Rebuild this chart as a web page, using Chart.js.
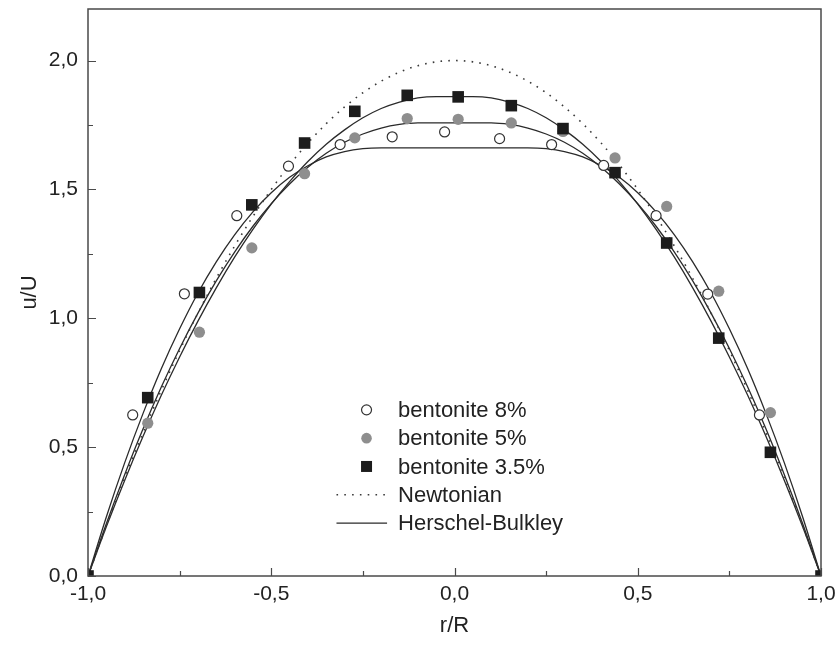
<!DOCTYPE html>
<html>
<head>
<meta charset="utf-8">
<script src="https://cdn.jsdelivr.net/npm/chart.js@4/dist/chart.umd.min.js"></script>
<style>
html,body{margin:0;padding:0;background:#fff;}
#wrap{width:838px;height:646px;position:relative;}
canvas{display:block;}
</style>
</head>
<body>
<div id="wrap"><canvas id="c" width="838" height="646"></canvas></div>
<script>
// ---- data ----
const legendLabels = ['bentonite 8%', 'bentonite 5%', 'bentonite 3.5%', 'Newtonian', 'Herschel-Bulkley'];
const xTickValues = [-1.0, -0.75, -0.5, -0.25, 0.0, 0.25, 0.5, 0.75, 1.0];
const yTickValues = [0.0, 0.25, 0.5, 0.75, 1.0, 1.25, 1.5, 1.75, 2.0];

// measured points
const r8  = [-0.878, -0.737, -0.594, -0.453, -0.312, -0.170, -0.027, 0.123, 0.265, 0.407, 0.550, 0.691, 0.832];
const u8  = [ 0.625,  1.095,  1.398,  1.590,  1.674,  1.704,  1.723, 1.697, 1.674, 1.593, 1.398, 1.094, 0.625];
const r5  = [-0.837, -0.696, -0.553, -0.409, -0.272, -0.129, 0.010, 0.155, 0.296, 0.438, 0.579, 0.721, 0.862];
const u5  = [ 0.593,  0.946,  1.273,  1.561,  1.700,  1.775, 1.772, 1.758, 1.725, 1.622, 1.434, 1.105, 0.634];
const r35 = [-1.000, -0.837, -0.696, -0.553, -0.409, -0.272, -0.129, 0.010, 0.155, 0.296, 0.438, 0.579, 0.721, 0.862, 1.000];
const u35 = [ 0.000,  0.692,  1.100,  1.440,  1.680,  1.803,  1.865, 1.859, 1.825, 1.736, 1.565, 1.292, 0.923, 0.480, 0.000];

// curves
const rGrid = [-1.00,-0.95,-0.90,-0.85,-0.80,-0.75,-0.70,-0.65,-0.60,-0.55,-0.50,-0.45,-0.40,-0.35,-0.30,-0.25,-0.20,-0.15,-0.10,-0.05,
                0.00, 0.05, 0.10, 0.15, 0.20, 0.25, 0.30, 0.35, 0.40, 0.45, 0.50, 0.55, 0.60, 0.65, 0.70, 0.75, 0.80, 0.85, 0.90, 0.95, 1.00];
const newtonian = [0,0.195,0.380,0.555,0.720,0.875,1.020,1.155,1.280,1.395,1.500,1.595,1.680,1.755,1.820,1.875,1.920,1.955,1.980,1.995,
                   2.000,1.995,1.980,1.955,1.920,1.875,1.820,1.755,1.680,1.595,1.500,1.395,1.280,1.155,1.020,0.875,0.720,0.555,0.380,0.195,0];
const hb35 = [0,0.191,0.371,0.541,0.701,0.850,0.989,1.118,1.237,1.345,1.443,1.530,1.608,1.675,1.731,1.778,1.814,1.839,1.855,1.860,
              1.860,1.860,1.855,1.839,1.814,1.778,1.731,1.675,1.608,1.530,1.443,1.345,1.237,1.118,0.989,0.850,0.701,0.541,0.371,0.191,0];
const hb5  = [0,0.203,0.393,0.570,0.733,0.883,1.020,1.145,1.257,1.357,1.445,1.521,1.586,1.640,1.683,1.715,1.738,1.752,1.758,1.758,
              1.758,1.758,1.758,1.752,1.738,1.715,1.683,1.640,1.586,1.521,1.445,1.357,1.257,1.145,1.020,0.883,0.733,0.570,0.393,0.203,0];
const hb8  = [0,0.229,0.439,0.630,0.804,0.959,1.098,1.219,1.324,1.413,1.487,1.547,1.592,1.626,1.647,1.658,1.661,1.661,1.661,1.661,
              1.661,1.661,1.661,1.661,1.661,1.658,1.647,1.626,1.592,1.547,1.487,1.413,1.324,1.219,1.098,0.959,0.804,0.630,0.439,0.229,0];

// ---- build ----
const pts = (xs, ys) => xs.map((x, i) => ({x: x, y: ys[i]}));
const FONT = "'Liberation Sans', Arial, sans-serif";
const INK = '#222222';
const GRAY = '#8e8e8e';

const lineStyle = {type: 'scatter', showLine: true, pointRadius: 0, pointHoverRadius: 0,
                   cubicInterpolationMode: 'monotone', fill: false, order: 2, clip: 0};

const datasets = [
  {label: legendLabels[0], data: pts(r8, u8), pointStyle: 'circle', pointRadius: 5,
   backgroundColor: '#ffffff', borderColor: '#333333', borderWidth: 1.2, order: 0, clip: 0},
  {label: legendLabels[1], data: pts(r5, u5), pointStyle: 'circle', pointRadius: 5.6,
   backgroundColor: GRAY, borderColor: GRAY, borderWidth: 0, order: 1, clip: 0},
  {label: legendLabels[2], data: pts(r35, u35), pointStyle: 'rect', pointRadius: 8.2,
   backgroundColor: '#1c1c1c', borderColor: '#1c1c1c', borderWidth: 0, order: 0, clip: 0},
  Object.assign({label: legendLabels[3], data: pts(rGrid, newtonian), borderColor: '#3a3a3a',
   borderWidth: 1.6, borderDash: [1.6, 6.2]}, lineStyle),
  Object.assign({label: legendLabels[4], data: pts(rGrid, hb35), borderColor: '#2a2a2a', borderWidth: 1.3}, lineStyle),
  Object.assign({label: legendLabels[4], data: pts(rGrid, hb5), borderColor: '#2a2a2a', borderWidth: 1.3}, lineStyle),
  Object.assign({label: legendLabels[4], data: pts(rGrid, hb8), borderColor: '#2a2a2a', borderWidth: 1.3}, lineStyle)
];

const fmt = v => (Math.abs(v * 2 - Math.round(v * 2)) < 1e-6) ? v.toFixed(1).replace('.', ',') : '';

// frame + inward ticks
const framePlugin = {
  id: 'frame',
  afterDatasetsDraw(chart) {
    const {ctx, chartArea: a, scales} = chart;
    ctx.save();
    ctx.strokeStyle = '#4a4a4a';
    ctx.lineWidth = 1.5;
    ctx.strokeRect(a.left, a.top, a.right - a.left, a.bottom - a.top);
    ctx.lineWidth = 1.2;
    ctx.beginPath();
    xTickValues.forEach(v => {
      const px = Math.round(scales.x.getPixelForValue(v)) + 0.5;
      const len = fmt(v) ? 8 : 5;
      ctx.moveTo(px, a.bottom); ctx.lineTo(px, a.bottom - len);
    });
    yTickValues.forEach(v => {
      const py = Math.round(scales.y.getPixelForValue(v)) + 0.5;
      const len = fmt(v) ? 8 : 5;
      ctx.moveTo(a.left, py); ctx.lineTo(a.left + len, py);
    });
    ctx.stroke();
    ctx.restore();
  }
};

// legend inside the plot
const legendPlugin = {
  id: 'innerLegend',
  afterDraw(chart) {
    const {ctx, chartArea: a} = chart;
    const w = a.right - a.left, h = a.bottom - a.top;
    const mx = a.left + 0.380 * w;       // marker centre
    const tx = a.left + 0.423 * w;       // text start
    const y0 = a.top + 0.707 * h;
    const dy = 0.0499 * h;
    const l0 = a.left + 0.339 * w, l1 = a.left + 0.408 * w;
    ctx.save();
    ctx.font = '22px ' + FONT;
    ctx.fillStyle = INK;
    ctx.textBaseline = 'middle';
    ctx.textAlign = 'left';
    legendLabels.forEach((t, i) => {
      const y = y0 + i * dy;
      ctx.save();
      if (i === 0) {
        ctx.beginPath(); ctx.arc(mx, y, 5, 0, Math.PI * 2);
        ctx.fillStyle = '#fff'; ctx.fill();
        ctx.strokeStyle = '#333'; ctx.lineWidth = 1.2; ctx.stroke();
      } else if (i === 1) {
        ctx.beginPath(); ctx.arc(mx, y, 5.3, 0, Math.PI * 2);
        ctx.fillStyle = GRAY; ctx.fill();
      } else if (i === 2) {
        ctx.fillStyle = '#1c1c1c'; ctx.fillRect(mx - 5.5, y - 5.5, 11, 11);
      } else if (i === 3) {
        ctx.strokeStyle = '#3a3a3a'; ctx.lineWidth = 1.6; ctx.setLineDash([1.6, 6.2]);
        ctx.beginPath(); ctx.moveTo(l0, y); ctx.lineTo(l1, y); ctx.stroke();
      } else {
        ctx.strokeStyle = '#2a2a2a'; ctx.lineWidth = 1.3;
        ctx.beginPath(); ctx.moveTo(l0, y); ctx.lineTo(l1, y); ctx.stroke();
      }
      ctx.restore();
      ctx.fillText(t, tx, y + 1);
    });
    ctx.restore();
  }
};

const noPad = s => { s.paddingTop = 0; s.paddingBottom = 0; s.paddingLeft = 0; s.paddingRight = 0; };

new Chart(document.getElementById('c'), {
  type: 'scatter',
  data: {datasets: datasets},
  plugins: [framePlugin, legendPlugin],
  options: {
    responsive: false,
    animation: false,
    devicePixelRatio: 1,
    layout: {padding: {top: 9, right: 17, left: 0, bottom: 0}},
    plugins: {legend: {display: false}, tooltip: {enabled: false}},
    scales: {
      x: {
        type: 'linear', min: -1, max: 1,
        afterFit: s => { s.height = 70; noPad(s); },
        grid: {display: false, drawTicks: false},
        border: {display: false},
        ticks: {stepSize: 0.25, includeBounds: false, autoSkip: false, maxRotation: 0,
                padding: 6, color: INK, font: {family: FONT, size: 21}, callback: v => fmt(v)},
        title: {display: true, text: 'r/R', color: INK, font: {family: FONT, size: 22},
                padding: {top: 0, bottom: 7}}
      },
      y: {
        type: 'linear', min: 0, max: 2.2,
        afterFit: s => { s.width = 88; noPad(s); },
        grid: {display: false, drawTicks: false},
        border: {display: false},
        ticks: {stepSize: 0.25, includeBounds: false, autoSkip: false,
                padding: 10, color: INK, font: {family: FONT, size: 21}, callback: v => fmt(v)},
        title: {display: true, text: 'u/U', color: INK, font: {family: FONT, size: 22},
                padding: {top: 17, bottom: 0}}
      }
    }
  }
});
</script>
</body>
</html>
